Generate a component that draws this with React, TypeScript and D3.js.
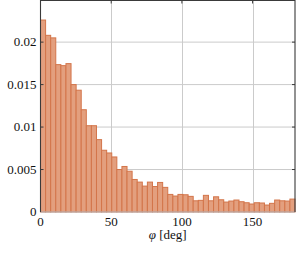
import * as d3 from 'd3';
import React, { useEffect, useRef } from 'react';

// histogram of phi, 50 bins of 3.6 deg over [0, 180]
const binEdges = d3.range(0, 180.0001, 3.6);
const density = [
  0.0226, 0.0208, 0.0205, 0.01735, 0.01723, 0.01747, 0.015, 0.01434, 0.01204, 0.01016,
  0.01016, 0.00852, 0.00727, 0.00695, 0.00648, 0.005, 0.00536, 0.0048, 0.00383, 0.00352,
  0.00305, 0.00352, 0.003, 0.00348, 0.0029, 0.00207, 0.00188, 0.00207, 0.00203, 0.00184,
  0.00132, 0.00137, 0.00196, 0.00132, 0.00179, 0.00144, 0.00117, 0.00129, 0.00141, 0.00121,
  0.00109, 0.00094, 0.00109, 0.00106, 0.00082, 0.00102, 0.00141, 0.00132, 0.00129, 0.00152,
];
const xTicks = [0, 50, 100, 150];
const yTicks = [0, 0.005, 0.01, 0.015, 0.02];
const yTickLabels = ['0', '0.005', '0.01', '0.015', '0.02'];

const width = 296;
const height = 253;
const margin = { top: 0.5, right: 1, bottom: 41, left: 40.5 };

export default function App() {
  const ref = useRef(null);

  useEffect(() => {
    const root = d3.select(ref.current);
    root.selectAll('*').remove();

    const svg = root
      .append('svg')
      .attr('width', width)
      .attr('height', height)
      .style('position', 'absolute')
      .style('left', '0px')
      .style('top', '0px')
      .style('font-family', '"Liberation Serif", "DejaVu Serif", serif');

    const x = d3.scaleLinear().domain([0, 180]).range([margin.left, width - margin.right]);
    const y = d3.scaleLinear().domain([0, 0.0249]).range([height - margin.bottom, margin.top]);

    const [x0, x1] = x.range();
    const [yb, yt] = y.range();

    svg.append('rect').attr('x', x0).attr('y', yt).attr('width', x1 - x0).attr('height', yb - yt).attr('fill', '#fff');

    // grid
    const grid = svg.append('g').attr('stroke', '#cbcbcb').attr('stroke-width', 1);
    grid
      .selectAll('line.gx')
      .data(xTicks.slice(1))
      .join('line')
      .attr('x1', (d) => Math.round(x(d)) + 0.5)
      .attr('x2', (d) => Math.round(x(d)) + 0.5)
      .attr('y1', yt)
      .attr('y2', yb);
    grid
      .selectAll('line.gy')
      .data(yTicks.slice(1))
      .join('line')
      .attr('x1', x0)
      .attr('x2', x1)
      .attr('y1', (d) => y(d))
      .attr('y2', (d) => y(d));

    // bars
    svg
      .append('g')
      .selectAll('rect')
      .data(density)
      .join('rect')
      .attr('x', (d, i) => x(binEdges[i]))
      .attr('width', (d, i) => x(binEdges[i + 1]) - x(binEdges[i]))
      .attr('y', (d) => y(d))
      .attr('height', (d) => yb - y(d))
      .attr('fill', '#e39f7e')
      .attr('stroke', '#d3754a')
      .attr('stroke-width', 1);

    // frame
    svg.append('line').attr('x1', x0).attr('x2', x1).attr('y1', yb).attr('y2', yb).attr('stroke', '#b4b9c0');
    const frame = svg.append('g').attr('stroke', '#3a3a3a').attr('stroke-width', 1.1).attr('fill', 'none');
    frame.append('path').attr('d', `M${x0},${yb} V${yt} H${x1} V${yb}`);

    // inward ticks
    const ticks = svg.append('g').attr('stroke', '#3a3a3a').attr('stroke-width', 1);
    yTicks.slice(1).forEach((t) => {
      ticks.append('line').attr('x1', x0).attr('x2', x0 + 3).attr('y1', y(t)).attr('y2', y(t));
      ticks.append('line').attr('x1', x1 - 3).attr('x2', x1).attr('y1', y(t)).attr('y2', y(t));
    });
    xTicks.slice(1).forEach((t) => {
      ticks.append('line').attr('x1', x(t)).attr('x2', x(t)).attr('y1', yt).attr('y2', yt + 3);
    });

    // tick labels
    svg
      .append('g')
      .selectAll('text')
      .data(yTicks)
      .join('text')
      .attr('x', x0 - 4)
      .attr('y', (d) => y(d))
      .attr('dy', '0.33em')
      .attr('text-anchor', 'end')
      .attr('font-size', 13)
      .attr('fill', '#111')
      .text((d, i) => yTickLabels[i]);

    svg
      .append('g')
      .selectAll('text')
      .data(xTicks)
      .join('text')
      .attr('x', (d) => x(d))
      .attr('y', yb + 14)
      .attr('text-anchor', 'middle')
      .attr('font-size', 13)
      .attr('fill', '#111')
      .text((d) => d);

    const label = svg
      .append('text')
      .attr('x', (x0 + x1) / 2)
      .attr('y', yb + 27)
      .attr('text-anchor', 'middle')
      .attr('font-size', 13)
      .attr('fill', '#111');
    label.append('tspan').attr('font-style', 'italic').text('φ');
    label.append('tspan').text(' [deg]');

    return () => {
      root.selectAll('*').remove();
    };
  }, []);

  return <div ref={ref} />;
}
